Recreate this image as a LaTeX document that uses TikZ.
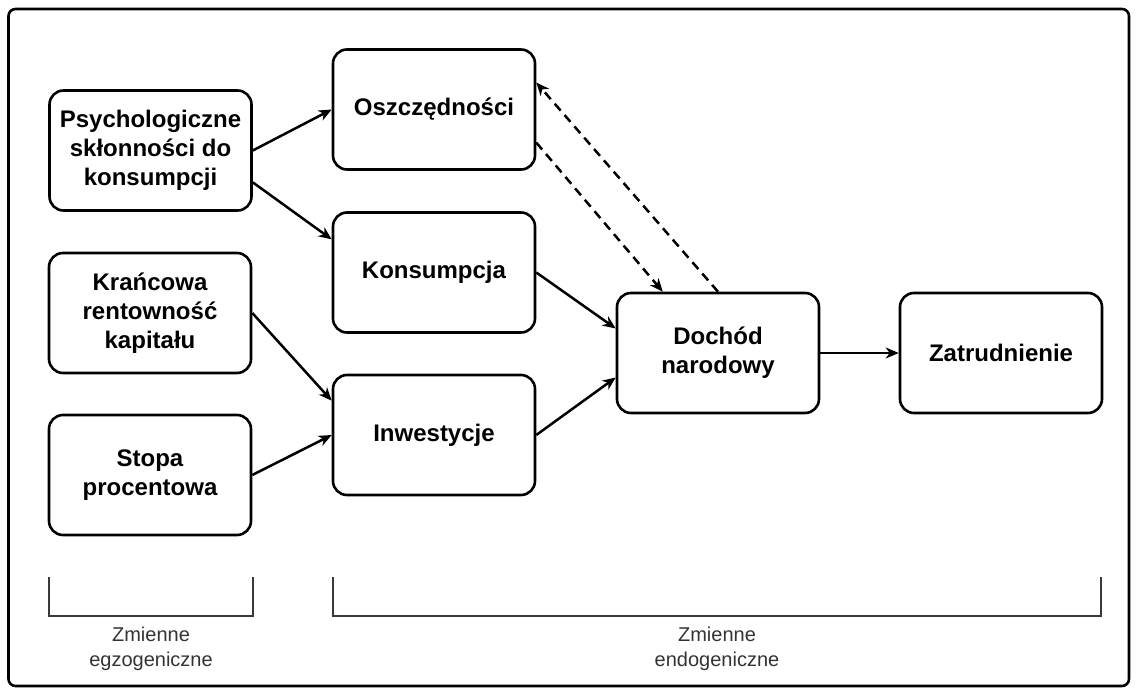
\documentclass[tikz,border=0pt]{standalone}
\usepackage{fontspec}
\setmainfont{Liberation Sans}
\usetikzlibrary{calc,arrows.meta}
\definecolor{brk}{HTML}{3A3A3A}
\definecolor{lbl}{HTML}{333333}
\begin{document}
\begin{tikzpicture}[x=1pt,y=-1pt,
  boxnode/.style={draw, line width=2.6pt, rounded corners=14pt, minimum width=202pt, minimum height=120pt, inner sep=0pt, align=center, font=\fontsize{24}{28.8}\selectfont\bfseries},
  conn/.style={line width=2.5pt, -{Stealth[length=13pt,width=11pt,inset=4pt]}},
  dconn/.style={conn, dash pattern=on 9pt off 6pt},
  bracket/.style={draw=brk, line width=1.6pt},
  grouplabel/.style={align=center, text=lbl, font=\fontsize{20}{25}\selectfont, inner sep=0pt}]
\useasboundingbox (0,0) rectangle (1136,693);
\draw[line width=2.6pt, rounded corners=7pt] (8.5,9) rectangle (1129,686);

\node[boxnode] (psy) at (150.5,150.5) {Psychologiczne\\skłonności do\\konsumpcji};
\node[boxnode] (kra) at (150,313) {Krańcowa\\rentowność\\kapitału};
\node[boxnode] (sto) at (150,475) {Stopa\\procentowa};
\node[boxnode] (osz) at (434,109.5) {Oszczędności};
\node[boxnode] (kon) at (434,272.5) {Konsumpcja};
\node[boxnode] (inw) at (434,435) {Inwestycje};
\node[boxnode] (doc) at (718,353) {Dochód\\narodowy};
\node[boxnode] (zat) at (1001,353) {Zatrudnienie};

\draw[conn] (psy.east) -- (osz.west);
\draw[conn] ($(psy.north east)!0.76!(psy.south east)$) -- ($(kon.north west)!0.23!(kon.south west)$);
\draw[conn] (kra.east) -- ($(inw.north west)!0.22!(inw.south west)$);
\draw[conn] (sto.east) -- (inw.west);
\draw[conn] (kon.east) -- ($(doc.north west)!0.3!(doc.south west)$);
\draw[conn] (inw.east) -- ($(doc.north west)!0.7!(doc.south west)$);
\draw[conn] (doc.east) -- (zat.west);
\draw[dconn] ($(osz.north east)!0.77!(osz.south east)$) -- ($(doc.north west)!0.23!(doc.north east)$);
\draw[dconn] (doc.north) -- ($(osz.north east)!0.28!(osz.south east)$);

\coordinate (b1a) at (49,577);
\coordinate (b1b) at (253,616);
\coordinate (b2a) at (333,577);
\coordinate (b2b) at (1101,616);
\draw[bracket] (b1a) |- (b1b) -- (b1b |- b1a);
\draw[bracket] (b2a) |- (b2b) -- (b2b |- b2a);

\node[grouplabel] (egz) at (151,649) {Zmienne\\egzogeniczne};
\node[grouplabel] (endo) at (717,649) {Zmienne\\endogeniczne};
\end{tikzpicture}
\end{document}
